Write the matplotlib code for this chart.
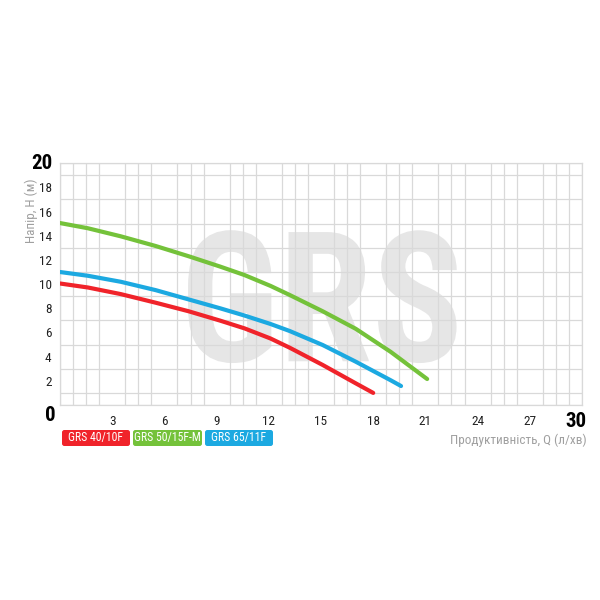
import matplotlib.pyplot as plt
from matplotlib import font_manager
from matplotlib.patches import FancyBboxPatch, PathPatch
from matplotlib.textpath import TextPath
from matplotlib.font_manager import FontProperties
from matplotlib.transforms import Affine2D
import numpy as np

# pump curves (Q in l/min, H in m)
q_40 = [0, 1.6, 3.5, 5.5, 7.4, 9.2, 10.6, 12.1, 13.2, 15.1, 17.0, 18.0]
h_40 = [10.05, 9.72, 9.17, 8.46, 7.75, 6.98, 6.34, 5.5, 4.74, 3.31, 1.79, 1.0]

q_50 = [0, 1.6, 3.5, 5.5, 7.4, 9.2, 10.6, 12.1, 13.2, 15.1, 17.0, 19.0, 21.1]
h_50 = [15.05, 14.62, 13.95, 13.15, 12.3, 11.45, 10.75, 9.85, 9.1, 7.75, 6.3, 4.4, 2.15]

q_65 = [0, 1.6, 3.5, 5.5, 7.4, 9.2, 10.6, 12.1, 13.2, 15.1, 17.0, 19.0, 19.6]
h_65 = [11.0, 10.69, 10.19, 9.5, 8.73, 8.0, 7.4, 6.7, 6.12, 4.96, 3.58, 2.05, 1.57]

names = ["GRS 40/10F", "GRS 50/15F-M", "GRS 65/11F"]
colors = ["#f0232a", "#74c23a", "#1ca9e1"]

x_ticks = [3, 6, 9, 12, 15, 18, 21, 24, 27]
y_ticks = [2, 4, 6, 8, 10, 12, 14, 16, 18]

# pick a narrow font if there is one
installed = {f.name for f in font_manager.fontManager.ttflist}
font = "DejaVu Sans"
for cand in ["Roboto Condensed", "Liberation Sans Narrow", "Roboto"]:
    if cand in installed:
        font = cand
        break
fam = [font, "DejaVu Sans"]

fig = plt.figure(figsize=(6, 6), dpi=100)
ax = fig.add_axes([0.1, 0.325, 0.87, 0.403])
ax.set_xlim(0, 30)
ax.set_ylim(0, 20)

# grid
ax.set_xticks(np.arange(0, 30.01, 0.75), minor=True)
ax.set_yticks(np.arange(0, 20.01, 1), minor=True)
ax.grid(which="minor", color="#d9d9d9", lw=0.9)
ax.tick_params(which="minor", length=0)
ax.set_axisbelow(False)
for s in ax.spines.values():
    s.set_color("#d9d9d9")
    s.set_linewidth(0.9)

ax.set_xticks(x_ticks)
ax.set_xticklabels([str(t) for t in x_ticks], family=fam, fontsize=9.5, color="#222")
ax.set_yticks(y_ticks)
ax.set_yticklabels([str(t) for t in y_ticks], family=fam, fontsize=9.5, color="#222")
ax.tick_params(axis="y", which="major", length=0, pad=6)
ax.tick_params(axis="x", which="major", length=0, pad=7)

# big end labels
ax.text(-0.42, 20, "20", ha="right", va="center", fontsize=15, fontweight="bold",
        family=fam, clip_on=False)
ax.text(-0.23, -0.9, "0", ha="right", va="center", fontsize=15, fontweight="bold",
        family=fam, clip_on=False)
ax.text(29.63, -1.38, "30", ha="center", va="center", fontsize=15, fontweight="bold",
        family=fam, clip_on=False)

# watermark, squeezed into its box
tp = TextPath((0, 0), "GRS", size=100, prop=FontProperties(family=fam, weight="bold"))
ext = tp.get_extents()
x0, x1, y0, y1 = 7.36, 22.8, 3.47, 14.46
tr = Affine2D().translate(-ext.x0, -ext.y0).scale((x1 - x0) / ext.width,
                                                  (y1 - y0) / ext.height).translate(x0, y0)
ax.add_patch(PathPatch(tr.transform_path(tp), facecolor="#e6e6e6", edgecolor="none",
                       zorder=0.5))

# curves
for q, h, c in [(q_40, h_40, colors[0]), (q_50, h_50, colors[1]), (q_65, h_65, colors[2])]:
    ax.plot(q, h, color=c, lw=3, solid_capstyle="round", solid_joinstyle="round", zorder=3)

# axis labels
fig.text(0.052, 0.648, "Напір, Н (м)", rotation=90, ha="center", va="center",
         fontsize=9.5, color="#a0a0a0", family=fam)
fig.text(0.978, 0.267, "Продуктивність, Q (л/хв)", ha="right", va="center",
         fontsize=9.5, color="#a0a0a0", family=fam)

# legend boxes
box_x = [62, 133, 205]
box_w = [68, 69, 68]
for bx, bw, name, c in zip(box_x, box_w, names, colors):
    patch = FancyBboxPatch((bx / 600, 1 - 446 / 600), bw / 600, 16 / 600,
                           boxstyle="round,pad=0,rounding_size=0.004",
                           transform=fig.transFigure, facecolor=c, edgecolor="none")
    fig.patches.append(patch)
    fig.text((bx + bw / 2) / 600, 1 - 438 / 600, name, ha="center", va="center",
             fontsize=8.5, color="white", family=fam)

fig.savefig("out.png", dpi=100, facecolor="white")
